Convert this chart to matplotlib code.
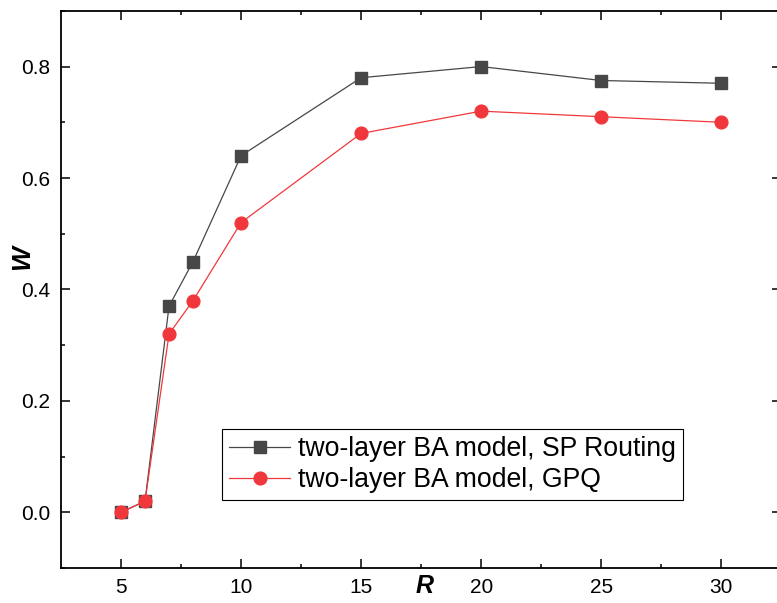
import matplotlib.pyplot as plt

plt.rcParams["font.family"] = ["Liberation Sans", "DejaVu Sans"]

r_values = [5, 6, 7, 8, 10, 15, 20, 25, 30]
w_sp_routing = [0.0, 0.02, 0.37, 0.45, 0.64, 0.78, 0.80, 0.775, 0.77]
w_gpq = [0.0, 0.02, 0.32, 0.38, 0.52, 0.68, 0.72, 0.71, 0.70]

label_sp = "two-layer BA model, SP Routing"
label_gpq = "two-layer BA model, GPQ"

fig = plt.figure(figsize=(7.77, 6.03), dpi=100)
# the original is cropped on the right, so the axes run past the figure edge
ax = fig.add_axes([0.0785, 0.058, 0.927, 0.924])

ax.plot(r_values, w_sp_routing, color="#474747", linewidth=0.9,
        marker="s", markersize=8.5, label=label_sp)
ax.plot(r_values, w_gpq, color="#f0383c", linewidth=0.9,
        marker="o", markersize=9.2, label=label_gpq)

ax.set_xlim(2.5, 32.5)
ax.set_ylim(-0.1, 0.9)
ax.set_xticks([5, 10, 15, 20, 25, 30])
ax.set_xticks([7.5, 12.5, 17.5, 22.5, 27.5], minor=True)
ax.set_yticks([0.0, 0.2, 0.4, 0.6, 0.8])
ax.set_yticks([-0.1, 0.1, 0.3, 0.5, 0.7, 0.9], minor=True)
ax.yaxis.set_major_formatter(plt.FormatStrFormatter("%.1f"))

ax.tick_params(which="both", direction="in", top=True, right=True,
               labelsize=15, width=1.1)
ax.tick_params(which="major", length=6.5)
ax.tick_params(which="minor", length=3.2)
ax.tick_params(axis="y", which="major", pad=8)
ax.tick_params(axis="x", which="major", pad=7)
for spine in ax.spines.values():
    spine.set_linewidth(1.3)

ax.set_xlabel("R", fontsize=18, fontweight="bold", fontstyle="italic")
ax.xaxis.set_label_coords(0.505, -0.011)
ax.set_ylabel("W", fontsize=19, fontweight="bold", fontstyle="italic")
ax.yaxis.set_label_coords(-0.037, 0.557)

ax.legend(loc="lower left", bbox_to_anchor=(0.224, 0.122), fontsize=19.2,
          frameon=True, fancybox=False, framealpha=1, edgecolor="black",
          handlelength=2.3, handletextpad=0.3, borderpad=0.25,
          labelspacing=0.2, borderaxespad=0)
ax.get_legend().get_frame().set_linewidth(0.8)

plt.savefig("out.png", dpi=100)
